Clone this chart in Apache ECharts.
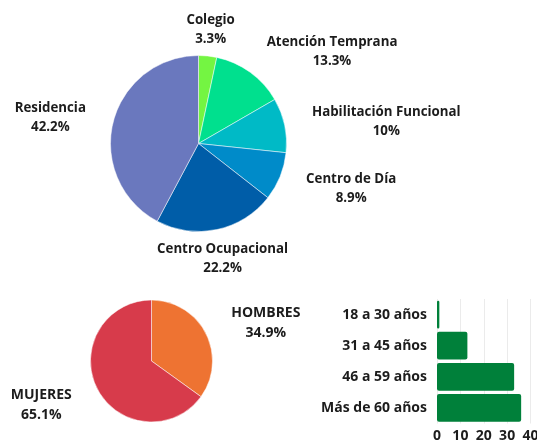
<!DOCTYPE html>
<html>
<head>
<meta charset="utf-8">
<script src="https://cdn.jsdelivr.net/npm/echarts@6/dist/echarts.min.js"></script>
<style>
  html, body { margin: 0; padding: 0; background: #fff; }
  #chart { width: 537px; height: 444px; }
</style>
</head>
<body>
<div id="chart"></div>
<script>
// datos
const placeNames = ['Colegio', 'Atención Temprana', 'Habilitación Funcional', 'Centro de Día', 'Centro Ocupacional', 'Residencia'];
const placeValues = [3, 12, 9, 8, 20, 38];
const placeColors = ['#74F542', '#00E08E', '#00BAC6', '#008BC9', '#005DA8', '#6A78BE'];

const genderNames = ['HOMBRES', 'MUJERES'];
const genderValues = [29, 54];
const genderColors = ['#EE7332', '#D73B4B'];

const ageGroups = ['18 a 30 años', '31 a 45 años', '46 a 59 años', 'Más de 60 años'];
const ageValues = [1, 13, 33, 36];

const textColor = '#1c1c1c';
const font = "'Open Sans', sans-serif";

const sum = (arr) => arr.reduce((a, b) => a + b, 0);

// etiqueta fuera del sector: centrada arriba/abajo, a un lado si no
function placeLabel(offsetY) {
  return function (params) {
    const pts = params.labelLinePoints;
    if (!pts) return {};
    const dx = pts[1][0] - pts[0][0];
    const dy = pts[1][1] - pts[0][1];
    const len = Math.hypot(dx, dy) || 1;
    const ux = dx / len;
    let align = 'center';
    if (ux > 0.35) align = 'left';
    else if (ux < -0.35) align = 'right';
    return { x: pts[1][0], y: pts[1][1] + offsetY, align: align, verticalAlign: 'middle' };
  };
}

function pieLabel(values, size, lh) {
  const total = sum(values);
  return {
    show: true,
    position: 'outside',
    formatter: (p) => `{n|${p.name}}\n{n|${Math.round((p.value / total) * 1000) / 10}%}`,
    rich: {
      n: {
        align: 'center',
        fontFamily: font,
        fontWeight: 'bold',
        fontSize: size,
        lineHeight: lh,
        color: textColor,
      },
    },
  };
}

const chart = echarts.init(document.getElementById('chart'));

const option = {
  animation: false,
  grid: { left: 437, right: 6.5, top: 299, bottom: 20.5, outerBoundsMode: 'none', containLabel: false },
  xAxis: {
    type: 'value',
    min: 0,
    max: 40,
    interval: 10,
    axisLine: { show: false },
    axisTick: { show: false },
    splitLine: { lineStyle: { color: '#ebebeb' } },
    axisLabel: {
      margin: 6,
      fontFamily: font,
      fontWeight: 'bold',
      fontSize: 14,
      color: textColor,
    },
  },
  yAxis: {
    type: 'category',
    data: ageGroups,
    inverse: true,
    axisLine: { show: false },
    axisTick: { show: false },
    axisLabel: {
      margin: 10,
      fontFamily: font,
      fontWeight: 'bold',
      fontSize: 14,
      color: textColor,
    },
  },
  series: [
    {
      type: 'pie',
      center: [198.5, 143.5],
      radius: 88,
      startAngle: 90,
      clockwise: true,
      avoidLabelOverlap: false,
      data: placeNames.map((n, i) => ({ name: n, value: placeValues[i], itemStyle: { color: placeColors[i] } })),
      itemStyle: { borderColor: '#fff', borderWidth: 0.5 },
      label: pieLabel(placeValues, 13.3, 19),
      labelLine: { show: true, length: 28, length2: 0, lineStyle: { color: 'rgba(0,0,0,0)' } },
      labelLayout: placeLabel(2),
      emphasis: { disabled: true },
    },
    {
      type: 'pie',
      center: [151.5, 361],
      radius: 61,
      startAngle: 90,
      clockwise: true,
      avoidLabelOverlap: false,
      data: genderNames.map((n, i) => ({ name: n, value: genderValues[i], itemStyle: { color: genderColors[i] } })),
      itemStyle: { borderColor: '#fff', borderWidth: 0.5 },
      label: pieLabel(genderValues, 14, 20),
      labelLine: { show: true, length: 28.5, length2: 0, lineStyle: { color: 'rgba(0,0,0,0)' } },
      labelLayout: placeLabel(3),
      emphasis: { disabled: true },
    },
    {
      type: 'bar',
      data: ageValues,
      barCategoryGap: '11%',
      itemStyle: { color: '#00803A', borderRadius: 2 },
      emphasis: { disabled: true },
    },
  ],
};

chart.setOption(option);
</script>
</body>
</html>
